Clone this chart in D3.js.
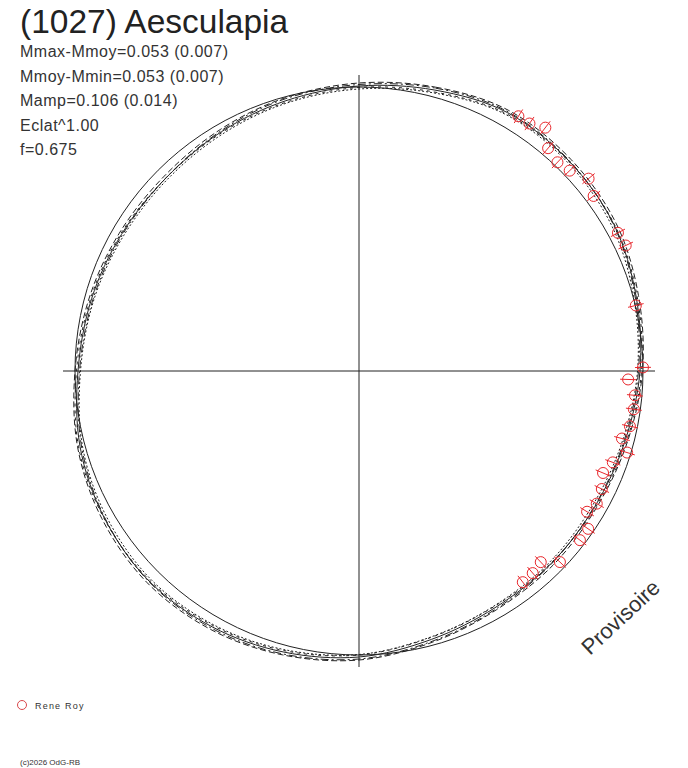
<!DOCTYPE html>
<html lang="fr">
<head>
  <meta charset="UTF-8">
  <title>(1027) Aesculapia</title>
  <style>
    body { margin: 0; background: #fff; }
    svg { display: block; font-family: "Liberation Sans", Arial, sans-serif; }
    .axis { stroke: #222; stroke-width: 1; }
    .ref { fill: none; stroke: #222; stroke-width: 1; }
    .fit { fill: none; stroke: #222; stroke-width: 1; }
    .pt { fill: none; stroke: #e8282d; stroke-width: 1; }
    .info { font-size: 16px; fill: #333; letter-spacing: 0.5px; }
  </style>
</head>
<body>
<div id="chart"></div>
<script src="https://d3js.org/d3.v7.min.js"></script>
<script>
  // header text
  var title = "(1027) Aesculapia";
  var infoLines = ["Mmax-Mmoy=0.053 (0.007)", "Mmoy-Mmin=0.053 (0.007)", "Mamp=0.106 (0.014)", "Eclat^1.00", "f=0.675"];
  var observer = "Rene Roy";
  var credit = "(c)2026 OdG-RB";
  var stamp = "Provisoire";

  // rotational phase grid for the fitted curves
  var phaseGrid = [0.000, 0.042, 0.083, 0.125, 0.167, 0.208, 0.250, 0.292, 0.333, 0.375, 0.417, 0.458,
                   0.500, 0.542, 0.583, 0.625, 0.667, 0.708, 0.750, 0.792, 0.833, 0.875, 0.917, 0.958];

  // fitted curve (mag deviation, outward = brighter) and its variants
  var fitMean = [0.004, 0.028, 0.056, 0.052, 0.040, 0.012, -0.012, -0.036, -0.048, -0.048, -0.044, -0.024,
                 0.008, 0.028, 0.044, 0.052, 0.040, 0.020, -0.012, -0.028, -0.040, -0.044, -0.032, -0.016];
  var fitA = [0.016, 0.040, 0.066, 0.062, 0.050, 0.022, -0.002, -0.026, -0.040, -0.038, -0.034, -0.012,
              0.020, 0.040, 0.056, 0.062, 0.050, 0.030, 0.000, -0.018, -0.030, -0.034, -0.022, -0.004];
  var fitB = [-0.008, 0.016, 0.046, 0.044, 0.030, 0.002, -0.022, -0.046, -0.058, -0.056, -0.052, -0.034,
              -0.002, 0.018, 0.034, 0.042, 0.030, 0.010, -0.022, -0.038, -0.050, -0.052, -0.042, -0.026];
  var fitC = [0.010, 0.036, 0.060, 0.054, 0.038, 0.008, -0.018, -0.040, -0.050, -0.046, -0.038, -0.016,
              0.016, 0.036, 0.050, 0.054, 0.038, 0.014, -0.018, -0.034, -0.044, -0.044, -0.028, -0.008];
  var fitD = [-0.002, 0.020, 0.050, 0.050, 0.042, 0.016, -0.006, -0.030, -0.044, -0.050, -0.050, -0.032,
              0.000, 0.022, 0.038, 0.048, 0.042, 0.026, -0.006, -0.024, -0.036, -0.044, -0.036, -0.022];

  // observations: phase, mag deviation, error
  var obsPhase = [0.089, 0.096, 0.104, 0.112, 0.121, 0.129, 0.139, 0.148, 0.172, 0.180, 0.213, 0.248, 0.255,
                  0.264, 0.272, 0.282, 0.290, 0.297, 0.305, 0.313, 0.322, 0.331, 0.338, 0.346, 0.354, 0.371,
                  0.379, 0.387, 0.395];
  var obsMag = [0.066, 0.066, 0.090, 0.033, 0.016, 0.027, 0.062, 0.035, 0.038, 0.043, 0.002, 0.000, -0.059,
                -0.028, -0.026, -0.030, -0.050, -0.015, -0.057, -0.078, -0.056, -0.047, -0.064, -0.023, -0.023,
                -0.027, -0.081, -0.070, -0.067];
  var obsErr = [0.032, 0.032, 0.032, 0.032, 0.032, 0.032, 0.032, 0.032, 0.032, 0.032, 0.032, 0.032, 0.032,
                0.032, 0.032, 0.032, 0.032, 0.032, 0.032, 0.032, 0.032, 0.032, 0.032, 0.032, 0.032, 0.032,
                0.032, 0.032, 0.032];

  var width = 688, height = 768;
  var cx = 359, cy = 371;

  var svg = d3.select("#chart").append("svg")
    .attr("width", width)
    .attr("height", height);

  var angle = d3.scaleLinear().domain([0, 1]).range([0, 2 * Math.PI]);
  var rScale = d3.scaleLinear().domain([0, 0.1]).range([284, 309]);

  var g = svg.append("g").attr("transform", "translate(" + cx + "," + cy + ")");

  // axes through the centre
  var axR = rScale(0.048);
  g.append("line").attr("class", "axis").attr("x1", -axR).attr("x2", axR).attr("y1", 0).attr("y2", 0);
  g.append("line").attr("class", "axis").attr("x1", 0).attr("x2", 0).attr("y1", -axR).attr("y2", axR);

  // mean magnitude circle
  g.append("circle").attr("class", "ref").attr("r", rScale(0));

  var radial = d3.lineRadial()
    .angle(function(d) { return angle(d[0]); })
    .radius(function(d) { return rScale(d[1]); })
    .curve(d3.curveCardinalClosed);

  var fits = [
    { v: fitA, dash: "6,3" },
    { v: fitB, dash: "2,2" },
    { v: fitC, dash: "8,3,2,3" },
    { v: fitD, dash: "3,4" },
    { v: fitMean, dash: null }
  ];

  fits.forEach(function(f) {
    var pts = phaseGrid.map(function(p, i) { return [p, f.v[i]]; });
    g.append("path")
      .attr("class", "fit")
      .attr("d", radial(pts))
      .attr("stroke-dasharray", f.dash);
  });

  // observations with radial error bars
  function xy(p, m) {
    var a = angle(p), r = rScale(m);
    return [r * Math.sin(a), -r * Math.cos(a)];
  }

  var obs = obsPhase.map(function(p, i) { return { p: p, m: obsMag[i], e: obsErr[i] }; });

  var og = g.selectAll(".obs").data(obs).enter().append("g").attr("class", "obs");
  og.append("line")
    .attr("class", "pt")
    .attr("x1", function(d) { return xy(d.p, d.m - d.e)[0]; })
    .attr("y1", function(d) { return xy(d.p, d.m - d.e)[1]; })
    .attr("x2", function(d) { return xy(d.p, d.m + d.e)[0]; })
    .attr("y2", function(d) { return xy(d.p, d.m + d.e)[1]; });
  og.append("circle")
    .attr("class", "pt")
    .attr("cx", function(d) { return xy(d.p, d.m)[0]; })
    .attr("cy", function(d) { return xy(d.p, d.m)[1]; })
    .attr("r", 5.5);

  // texts
  svg.append("text").attr("x", 20).attr("y", 33)
    .style("font-size", "33.5px").style("fill", "#222").text(title);

  svg.selectAll(".info").data(infoLines).enter().append("text")
    .attr("class", "info")
    .attr("x", 20)
    .attr("y", function(d, i) { return 57 + i * 24.5; })
    .text(function(d) { return d; });

  svg.append("text")
    .attr("transform", "translate(590,656) rotate(-43)")
    .style("font-size", "22px").style("fill", "#333")
    .text(stamp);

  svg.append("circle").attr("cx", 22).attr("cy", 705).attr("r", 4.5)
    .style("fill", "none").style("stroke", "#d9484b").style("stroke-width", 1);
  svg.append("text").attr("x", 35).attr("y", 709)
    .style("font-size", "9px").style("letter-spacing", "1.2px").style("fill", "#333")
    .text(observer);

  svg.append("text").attr("x", 20).attr("y", 765)
    .style("font-size", "8px").style("fill", "#333")
    .text(credit);
</script>
</body>
</html>
